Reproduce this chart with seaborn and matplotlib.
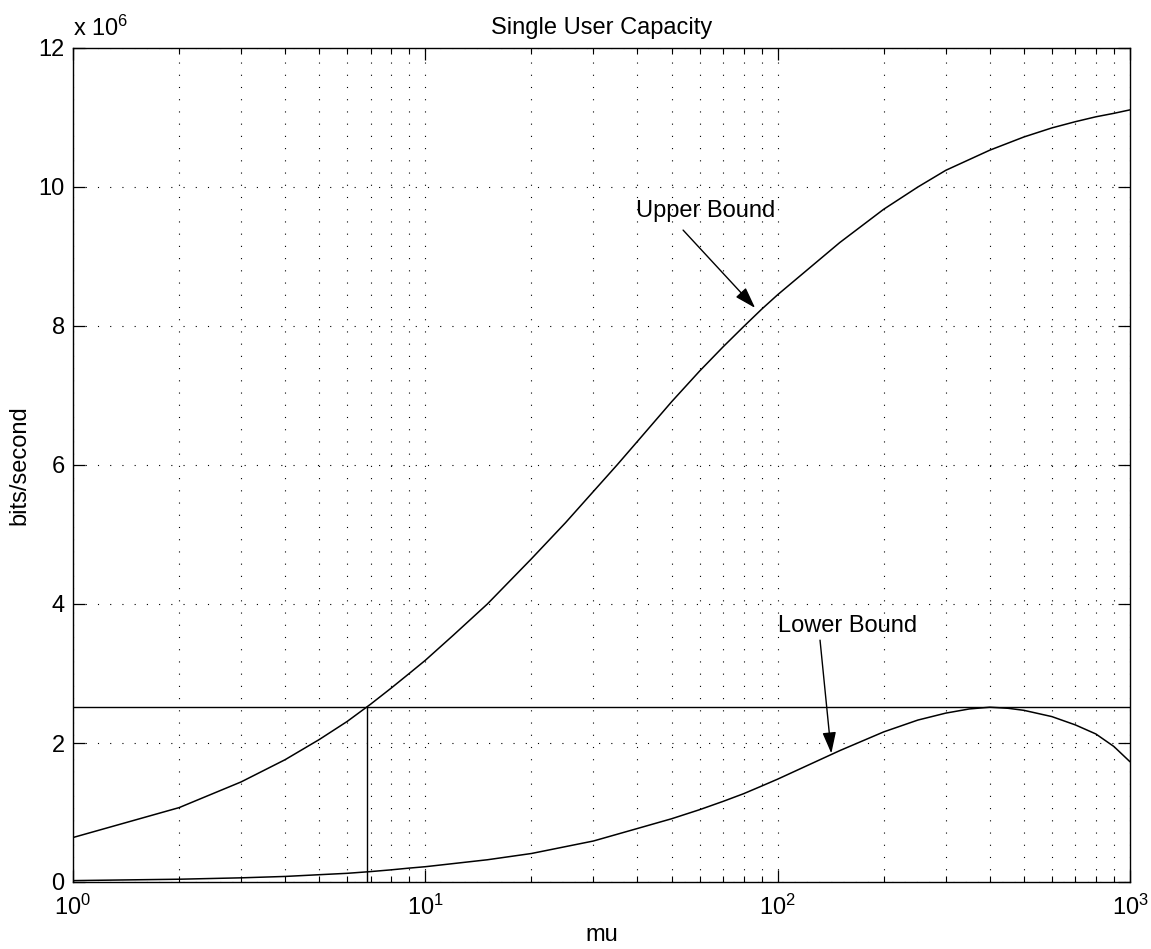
import numpy as np
import pandas as pd
import matplotlib
matplotlib.use("Agg")
import matplotlib.pyplot as plt
import seaborn as sns
from matplotlib.ticker import LogLocator, MultipleLocator, NullLocator, FuncFormatter

# Capacity curves (bits/second, in units of 1e6) against mu
upper_mu = [1, 2, 3, 4, 5, 6, 7, 8, 9, 10, 12, 15, 20, 25, 30, 35, 40, 50, 60, 70,
            80, 90, 100, 150, 200, 250, 300, 400, 500, 600, 700, 800, 900, 1000]
upper_rate = [0.64, 1.07, 1.44, 1.76, 2.05, 2.31, 2.56, 2.79, 3.00, 3.19, 3.55, 4.00,
              4.65, 5.17, 5.62, 6.00, 6.34, 6.91, 7.35, 7.70, 7.99, 8.24, 8.45, 9.20,
              9.68, 10.00, 10.24, 10.53, 10.72, 10.85, 10.94, 11.01, 11.06, 11.11]

lower_mu = [1, 2, 3, 4, 5, 6, 7, 8, 9, 10, 15, 20, 30, 40, 50, 60, 70, 80, 90, 100,
            150, 200, 250, 300, 350, 400, 450, 500, 600, 700, 800, 900, 1000]
lower_rate = [0.02, 0.04, 0.06, 0.08, 0.105, 0.125, 0.15, 0.175, 0.20, 0.22, 0.32,
              0.41, 0.59, 0.77, 0.91, 1.04, 1.16, 1.27, 1.38, 1.48, 1.89, 2.16, 2.33,
              2.43, 2.49, 2.515, 2.50, 2.47, 2.38, 2.26, 2.13, 1.95, 1.73]

# Peak of the lower bound and the mu at which the upper bound reaches it
capacity_level = 2.515
crossing_mu = 6.82

SCALE = 1e6

df = pd.concat([
    pd.DataFrame({"mu": upper_mu, "rate": np.array(upper_rate) * SCALE, "bound": "Upper Bound"}),
    pd.DataFrame({"mu": lower_mu, "rate": np.array(lower_rate) * SCALE, "bound": "Lower Bound"}),
], ignore_index=True)

sns.set_theme(style="ticks")
plt.rcParams.update({
    "font.family": ["Liberation Sans", "DejaVu Sans"],
    "axes.edgecolor": "black",
    "axes.linewidth": 1.0,
    "xtick.color": "black",
    "ytick.color": "black",
    "text.color": "black",
    "axes.labelcolor": "black",
})

FS = 17
fig = plt.figure(figsize=(11.51, 9.49), dpi=100)
ax = fig.add_axes([73 / 1151, 1 - 882 / 949, (1130 - 73) / 1151, (882 - 48) / 949])

sns.lineplot(data=df, x="mu", y="rate", units="bound", estimator=None,
             color="black", lw=1.1, ax=ax, legend=False)

ax.axhline(capacity_level * SCALE, color="black", lw=1.0)
ax.vlines(crossing_mu, 0, capacity_level * SCALE, color="black", lw=1.0)

ax.set_xscale("log")
ax.set_xlim(1, 1000)
ax.set_ylim(0, 12 * SCALE)

ax.xaxis.set_major_locator(LogLocator(base=10, numticks=10))
ax.xaxis.set_minor_locator(LogLocator(base=10, subs=np.arange(2, 10), numticks=20))
ax.yaxis.set_major_locator(MultipleLocator(2 * SCALE))
ax.yaxis.set_minor_locator(NullLocator())
ax.yaxis.set_major_formatter(FuncFormatter(lambda v, _: f"{v / SCALE:g}"))

ax.tick_params(which="both", direction="in", top=True, right=True, labelsize=FS)
ax.tick_params(which="major", length=8.5, width=0.9)
ax.tick_params(which="minor", length=4, width=0.8)
ax.tick_params(axis="x", which="major", pad=9)
ax.tick_params(axis="y", which="major", pad=6)

grid_kw = dict(color="black", linestyle=(0, (1, 10)), lw=0.8)
ax.grid(True, which="major", axis="both", **grid_kw)
ax.grid(True, which="minor", axis="x", **grid_kw)

for s in ax.spines.values():
    s.set_visible(True)
    s.set_color("black")

ax.set_title("Single User Capacity", fontsize=FS, pad=10)
ax.set_xlabel("mu", fontsize=FS, labelpad=3)
ax.set_ylabel("bits/second", fontsize=FS, labelpad=6)

ax.annotate(r"x $\mathdefault{10^{6}}$", xy=(0, 1), xycoords="axes fraction",
            xytext=(0, 5), textcoords="offset points", ha="left", va="bottom", fontsize=FS)

arrow_kw = dict(arrowstyle="-|>,head_length=1.0,head_width=0.32", color="black",
                lw=1.0, mutation_scale=13, shrinkA=0, shrinkB=0)

ax.text(39.6, 9.573 * SCALE, "Upper Bound", fontsize=FS, ha="left", va="baseline")
ax.annotate("", xy=(86.3, 8.26 * SCALE), xytext=(53.9, 9.38 * SCALE), arrowprops=arrow_kw)

ax.text(100, 3.60 * SCALE, "Lower Bound", fontsize=FS, ha="left", va="baseline")
ax.annotate("", xy=(142, 1.85 * SCALE), xytext=(131.9, 3.48 * SCALE), arrowprops=arrow_kw)

fig.savefig("out.png", dpi=100, facecolor="white")
